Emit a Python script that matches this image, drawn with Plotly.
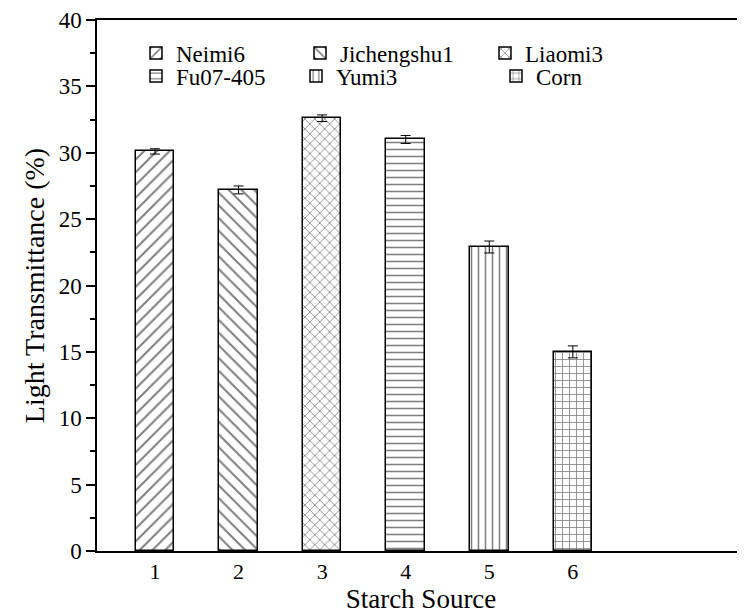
import plotly.graph_objects as go

categories = [1, 2, 3, 4, 5, 6]
names = ["Neimi6", "Jichengshu1", "Liaomi3", "Fu07-405", "Yumi3", "Corn"]
values = [30.1, 27.2, 32.6, 31.0, 22.9, 15.0]
errors = [0.2, 0.3, 0.25, 0.3, 0.45, 0.45]
patterns = ["/", "\\", "x", "-", "|", "+"]
pattern_sizes = [9, 9, 7, 7, 7, 7]
y_ticks = [0, 5, 10, 15, 20, 25, 30, 35, 40]

FONT = "Liberation Serif"
OFF = 8  # page body offset
W, H = 745 - OFF, 614 - OFF
ML, MR, MT, MB = 97 - OFF, 0, 20 - OFF, 63
PW, PH = W - ML - MR, H - MT - MB
SCREEN_BOTTOM = 551

# legend text-start pixel positions (screen x) and row centers (screen y)
leg_text_px = [183, 347, 532, 183, 343, 543]
leg_y_px = [53, 53, 53, 76, 76, 76]
TEXT_OFFSET = 47

fig = go.Figure()
for i, (c, n, v, e, p, s) in enumerate(zip(categories, names, values, errors, patterns, pattern_sizes)):
    lg = "legend" if i == 0 else f"legend{i+1}"
    fig.add_trace(go.Bar(
        x=[c], y=[v], name=n, width=0.46, showlegend=True,
        marker=dict(color="white", line=dict(color="black", width=1.5),
                    pattern=dict(shape=p, fgcolor="black", bgcolor="white", size=s, solidity=0.22)),
        error_y=dict(type="data", array=[e], color="black", thickness=1, width=5),
        legend=lg,
    ))

layout_legends = {}
for i in range(6):
    key = "legend" if i == 0 else f"legend{i+1}"
    xs = leg_text_px[i] - TEXT_OFFSET
    layout_legends[key] = dict(
        x=(xs - 97) / PW, y=(SCREEN_BOTTOM - leg_y_px[i]) / PH,
        xanchor="left", yanchor="middle", bgcolor="rgba(0,0,0,0)",
        font=dict(family=FONT, size=23, color="black"),
        itemwidth=30, tracegroupgap=0,
    )

fig.update_layout(
    width=W, height=H,
    margin=dict(l=ML, r=MR, t=MT, b=MB, autoexpand=False),
    paper_bgcolor="white", plot_bgcolor="white",
    font=dict(family=FONT, color="black"),
    showlegend=True,
    bargap=0,
    **layout_legends,
)
fig.update_xaxes(
    range=[0.306, 8.06], tickvals=categories, ticktext=[str(c) for c in categories],
    ticks="", showgrid=False, zeroline=False, automargin=False,
    showline=True, linecolor="black", linewidth=1.5, mirror=True,
    tickfont=dict(family=FONT, size=22, color="black"),
    title=dict(text="Starch Source", font=dict(family=FONT, size=27, color="black"), standoff=4),
)
fig.update_yaxes(
    range=[0, 40], tickvals=y_ticks, ticks="outside", ticklen=9, tickwidth=1.5, tickcolor="black",
    minor=dict(dtick=2.5, ticks="outside", ticklen=5, tickwidth=1.5, tickcolor="black"),
    showgrid=False, zeroline=False, automargin=False,
    showline=True, linecolor="black", linewidth=1.5, mirror=False,
    tickfont=dict(family=FONT, size=23, color="black"),
    title=dict(text="Light Transmittance (%)", font=dict(family=FONT, size=28, color="black"), standoff=6),
)
fig.write_html("out.html")
